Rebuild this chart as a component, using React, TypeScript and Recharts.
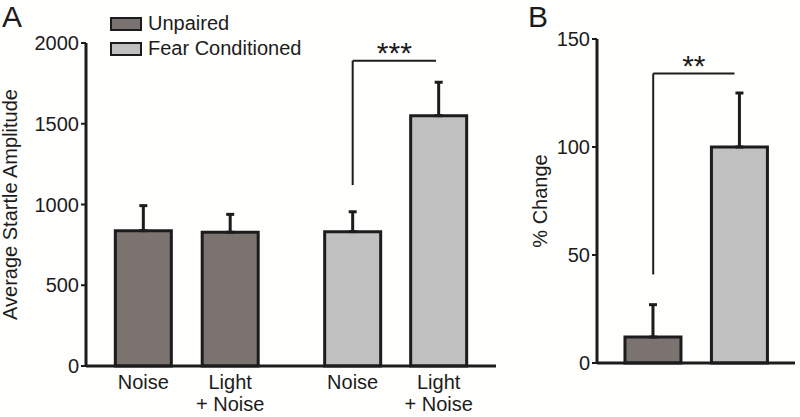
import {
  BarChart,
  Bar,
  XAxis,
  YAxis,
  Cell,
  ErrorBar,
  ReferenceLine,
  Legend,
  Label,
} from "recharts";

// panel A: startle amplitude per test condition
const conditions = ["Noise", "Light + Noise", "Noise", "Light + Noise"];
const conditionPos = [0, 1, 2.41, 3.4];
const conditionGroup = ["Unpaired", "Unpaired", "Fear Conditioned", "Fear Conditioned"];
const startleMean = [838, 828, 832, 1550];
const startleSem = [155, 111, 123, 207];
const startleTicks = [0, 500, 1000, 1500, 2000];

// panel B: % change light+noise vs noise
const groups = ["Unpaired", "Fear Conditioned"];
const groupPos = [0, 1];
const changeMean = [12, 100];
const changeSem = [15, 25];
const changeTicks = [0, 50, 100, 150];

// significance brackets
const bracketA = { from: 2.41, to: 3.37, low: 1120, high: 1890, stars: "***" };
const bracketB = { from: 0, to: 0.94, low: 41, high: 134, stars: "**" };

const groupColors: Record<string, string> = {
  Unpaired: "#7b7370",
  "Fear Conditioned": "#c0c0c0",
};
const ink = "#1c1c1c";
const font = "'Liberation Sans', Arial, sans-serif";

const startleData = conditions.map((c, i) => ({
  pos: conditionPos[i],
  name: c,
  group: conditionGroup[i],
  mean: startleMean[i],
  sem: [0, startleSem[i]],
}));

const changeData = groups.map((g, i) => ({
  pos: groupPos[i],
  group: g,
  mean: changeMean[i],
  sem: [0, changeSem[i]],
}));

function ConditionTick({ x, y, payload }: any) {
  const i = conditionPos.indexOf(payload.value);
  const label = conditions[i] ?? "";
  const lines = label.startsWith("Light") ? ["Light", "+ Noise"] : [label];
  return (
    <text x={x} y={y + 23} textAnchor="middle" fontSize={20} fill={ink} fontFamily={font}>
      {lines.map((l, k) => (
        <tspan key={k} x={x} dy={k === 0 ? 0 : 22}>
          {l}
        </tspan>
      ))}
    </text>
  );
}

const yTitle = (title: string, baseX: number) => ({ viewBox }: any) => {
  const cy = viewBox.y + viewBox.height / 2;
  return (
    <text
      x={baseX}
      y={cy}
      transform={`rotate(-90 ${baseX} ${cy})`}
      textAnchor="middle"
      fontSize={20}
      fill={ink}
      fontFamily={font}
    >
      {title}
    </text>
  );
};

function GroupLegend() {
  return (
    <div style={{ fontFamily: font, fontSize: 20, color: ink, lineHeight: "25px" }}>
      {groups.map((g) => (
        <div key={g} style={{ display: "flex", alignItems: "center", height: 25 }}>
          <span
            style={{
              display: "inline-block",
              width: 28,
              height: 10,
              border: `2px solid ${ink}`,
              background: groupColors[g],
              marginRight: 6,
              flexShrink: 0,
            }}
          />
          {g}
        </div>
      ))}
    </div>
  );
}

const tickStyle = { fontSize: 20, fill: ink, fontFamily: font };
const letterStyle: React.CSSProperties = {
  position: "absolute",
  top: 0,
  fontFamily: font,
  fontSize: 30,
  lineHeight: "34px",
  color: ink,
};

export default function App() {
  return (
    <div
      style={{
        position: "fixed",
        left: 0,
        top: 0,
        width: 800,
        height: 417,
        background: "#fefefc",
        overflow: "hidden",
      }}
    >
      <div style={{ position: "absolute", left: 0, top: 0 }}>
        <BarChart
          width={498}
          height={417}
          data={startleData}
          margin={{ top: 43, right: 2, bottom: 50, left: 20 }}
        >
          <XAxis
            dataKey="pos"
            type="number"
            domain={[-0.66, 4.06]}
            ticks={conditionPos}
            interval={0}
            height={1}
            tick={<ConditionTick />}
            tickLine={false}
            tickSize={0}
            tickMargin={0}
            axisLine={{ stroke: ink, strokeWidth: 3 }}
          />
          <YAxis
            type="number"
            domain={[0, 2000]}
            ticks={startleTicks}
            interval={0}
            width={66}
            tick={tickStyle}
            tickSize={5}
            tickMargin={2}
            tickLine={{ stroke: ink, strokeWidth: 2 }}
            axisLine={{ stroke: ink, strokeWidth: 3 }}
          >
            <Label content={yTitle("Average Startle Amplitude", 17)} />
          </YAxis>
          <Legend
            layout="vertical"
            align="center"
            verticalAlign="middle"
            content={<GroupLegend />}
            wrapperStyle={{ left: 110, top: 11, width: "auto" }}
          />
          <Bar dataKey="mean" barSize={56} stroke={ink} strokeWidth={3} isAnimationActive={false}>
            {startleData.map((d, i) => (
              <Cell key={i} fill={groupColors[d.group]} />
            ))}
            <ErrorBar dataKey="sem" direction="y" width={4} stroke={ink} strokeWidth={3} isAnimationActive={false} />
          </Bar>
          <ReferenceLine
            segment={[
              { x: bracketA.from, y: bracketA.low },
              { x: bracketA.from, y: bracketA.high },
            ]}
            stroke={ink}
            strokeWidth={2}
          />
          <ReferenceLine
            segment={[
              { x: bracketA.from, y: bracketA.high },
              { x: bracketA.to, y: bracketA.high },
            ]}
            stroke={ink}
            strokeWidth={2}
          >
            <Label value={bracketA.stars} position="top" offset={-2} fontSize={30} fill={ink} fontFamily={font} />
          </ReferenceLine>
        </BarChart>
      </div>

      <div style={{ position: "absolute", left: 480, top: 0 }}>
        <BarChart
          width={320}
          height={417}
          data={changeData}
          margin={{ top: 39, right: 5, bottom: 53, left: 57 }}
        >
          <XAxis
            dataKey="pos"
            type="number"
            domain={[-0.65, 1.64]}
            ticks={groupPos}
            height={1}
            tick={false}
            tickLine={false}
            axisLine={{ stroke: ink, strokeWidth: 3 }}
          />
          <YAxis
            type="number"
            domain={[0, 150]}
            ticks={changeTicks}
            interval={0}
            width={60}
            tick={tickStyle}
            tickSize={5}
            tickMargin={2}
            tickLine={{ stroke: ink, strokeWidth: 2 }}
            axisLine={{ stroke: ink, strokeWidth: 3 }}
          >
            <Label content={yTitle("% Change", 67)} />
          </YAxis>
          <Bar dataKey="mean" barSize={56} stroke={ink} strokeWidth={3} isAnimationActive={false}>
            {changeData.map((d, i) => (
              <Cell key={i} fill={groupColors[d.group]} />
            ))}
            <ErrorBar dataKey="sem" direction="y" width={4} stroke={ink} strokeWidth={3} isAnimationActive={false} />
          </Bar>
          <ReferenceLine
            segment={[
              { x: bracketB.from, y: bracketB.low },
              { x: bracketB.from, y: bracketB.high },
            ]}
            stroke={ink}
            strokeWidth={2}
          />
          <ReferenceLine
            segment={[
              { x: bracketB.from, y: bracketB.high },
              { x: bracketB.to, y: bracketB.high },
            ]}
            stroke={ink}
            strokeWidth={2}
          >
            <Label value={bracketB.stars} position="top" offset={-2} fontSize={30} fill={ink} fontFamily={font} />
          </ReferenceLine>
        </BarChart>
      </div>

      <div style={{ ...letterStyle, left: 2 }}>A</div>
      <div style={{ ...letterStyle, left: 528 }}>B</div>
    </div>
  );
}
